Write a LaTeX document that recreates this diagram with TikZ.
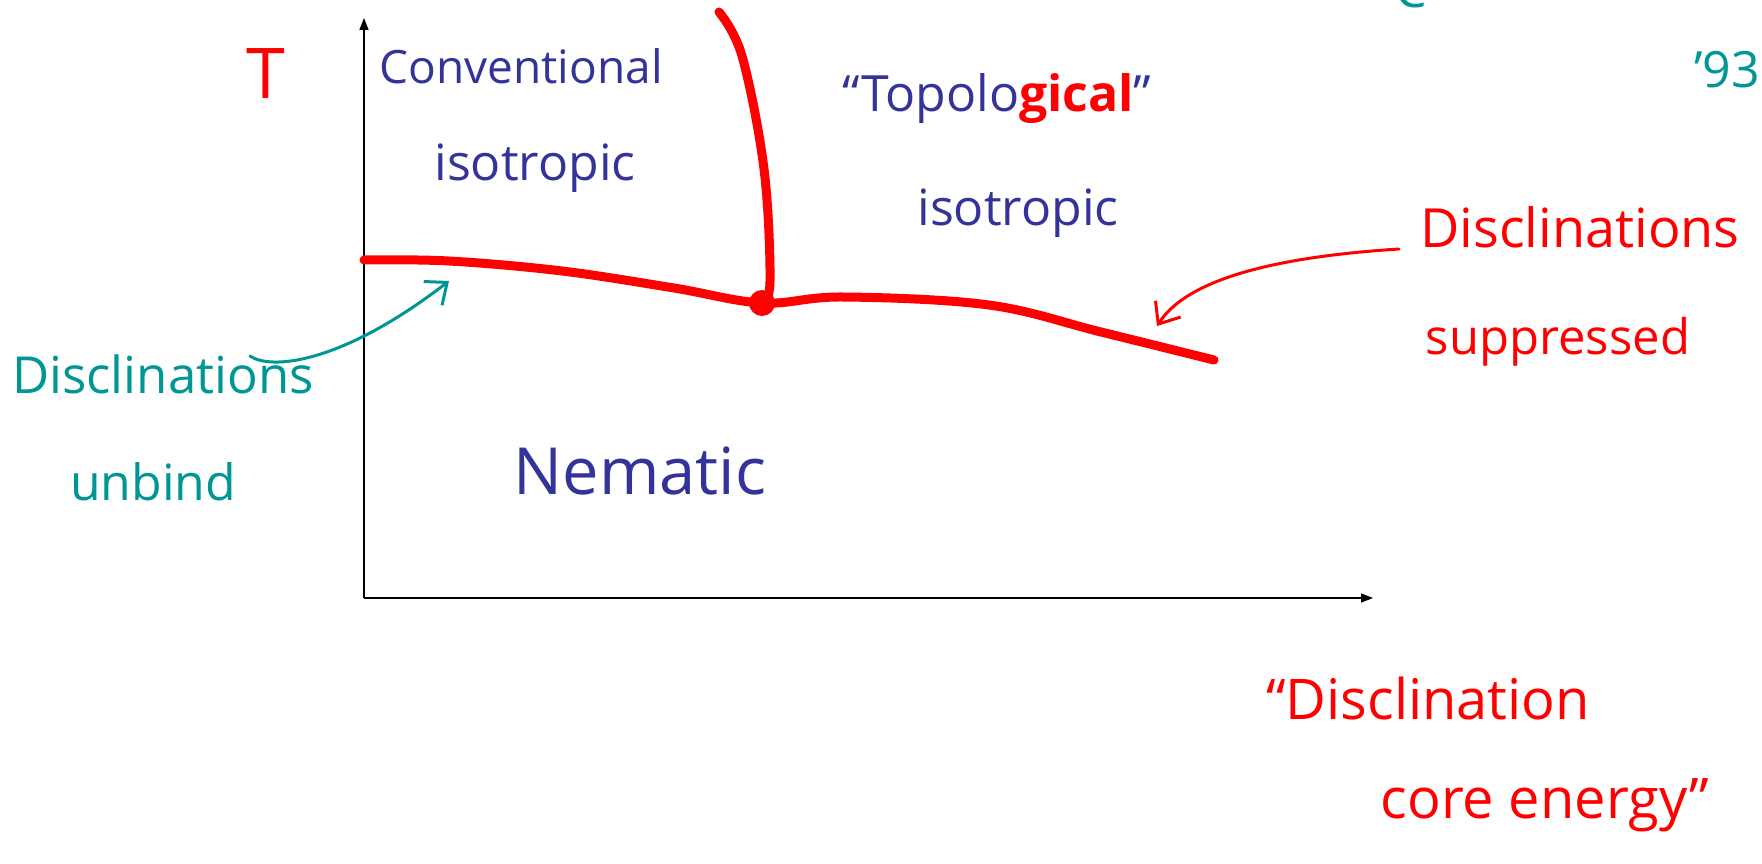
\documentclass[tikz,border=0pt]{standalone}
\usepackage{fontspec}
\setmainfont{Open Sans}
\usetikzlibrary{arrows.meta}
\definecolor{inkblue}{RGB}{51,51,153}
\definecolor{inkred}{RGB}{255,0,0}
\definecolor{inkteal}{RGB}{0,150,150}
\newcommand\hwsize[1]{\fontsize{#1}{#1}\selectfont}
\tikzset{
  bluetxt/.style={text=inkblue, anchor=base, inner sep=0pt},
  redtxt/.style={text=inkred, anchor=base, inner sep=0pt},
  tealtxt/.style={text=inkteal, anchor=base, inner sep=0pt},
  axis/.style={black, line width=1.5pt, -{Triangle[length=12pt,width=9pt]}},
  phaseline/.style={inkred, line width=9pt, line cap=round, line join=round},
  redarrow/.style={inkred, line width=3pt, line cap=round, -{Straight Barb[length=18pt,width=30pt,line width=3pt]}},
  tealarrow/.style={inkteal, line width=3pt, line cap=round, -{Straight Barb[length=18pt,width=30pt,line width=3pt]}},
}
\begin{document}
\begin{tikzpicture}[x=1pt,y=-1pt]
\clip (0,0) rectangle (1762,864);
\fill[white] (0,0) rectangle (1762,864);
% axes
\coordinate (O) at (364,598);
\coordinate (ytop) at (364,18);
\coordinate (xend) at (1373,598);
\draw[axis] (O) -- (ytop);
\draw[axis] (O) -- (xend);
% phase boundaries
\coordinate (h0) at (364,260);
\coordinate (h1) at (449,261);
\coordinate (h2) at (562,271);
\coordinate (h3) at (674,288);
\coordinate (h5) at (843,297);
\coordinate (h6) at (989,305);
\coordinate (h7) at (1101,332);
\coordinate (h8) at (1214,360);
\coordinate (v0) at (719,12);
\coordinate (v1) at (742,56);
\coordinate (v2) at (764,169);
\coordinate (v3) at (770,281);
\node[circle, fill=inkred, inner sep=0pt, minimum size=26pt] (tp) at (762,303) {};
\draw[phaseline] plot[smooth, tension=0.6] coordinates {(h0) (h1) (h2) (h3) (tp.center) (h5) (h6) (h7) (h8)};
\draw[phaseline] plot[smooth, tension=0.6] coordinates {(v0) (v1) (v2) (v3) (tp.center)};
% texts
\node[redtxt, font=\hwsize{70}] (T) at (266,99) {T};
\node[bluetxt, font=\hwsize{46}] (conv) at (521,84) {Conventional};
\node[bluetxt, font=\hwsize{50}] (iso1) at (535,180) {isotropic};
\node[bluetxt, font=\hwsize{50}] (topo) at (997,112) {“Topolo{\color{inkred}\bfseries gical}”};
\node[bluetxt, font=\hwsize{50}] (iso2) at (1018,225) {isotropic};
\node[bluetxt, font=\hwsize{65}] (nem) at (640,494) {Nematic};
\node[redtxt, font=\hwsize{54}] (dsup) at (1580,247) {Disclinations};
\node[redtxt, font=\hwsize{49}] (sup) at (1558,354) {suppressed};
\node[tealtxt, font=\hwsize{51}] (dunb) at (163,393) {Disclinations};
\node[tealtxt, font=\hwsize{50}] (unb) at (153,500) {unbind};
\node[redtxt, font=\hwsize{56}] (dce) at (1428,719) {“Disclination};
\node[redtxt, font=\hwsize{56}] (ce) at (1545,818) {core energy”};
\node[tealtxt, font=\hwsize{50}, anchor=base east] (yr) at (1760,88) {’93};
\node[tealtxt, font=\hwsize{50}, anchor=base west] (cc) at (1395,8) {C};
% annotation arrows
\coordinate (ra0) at (1399,249);
\coordinate (ra1) at (1157,326);
\draw[redarrow] (ra0) .. controls (1290,256) and (1190,275) .. (ra1);
\coordinate (ta0) at (250,356);
\coordinate (ta1) at (449,281);
\draw[tealarrow] (ta0) .. controls (270,370) and (340,365) .. (ta1);
\end{tikzpicture}
\end{document}
